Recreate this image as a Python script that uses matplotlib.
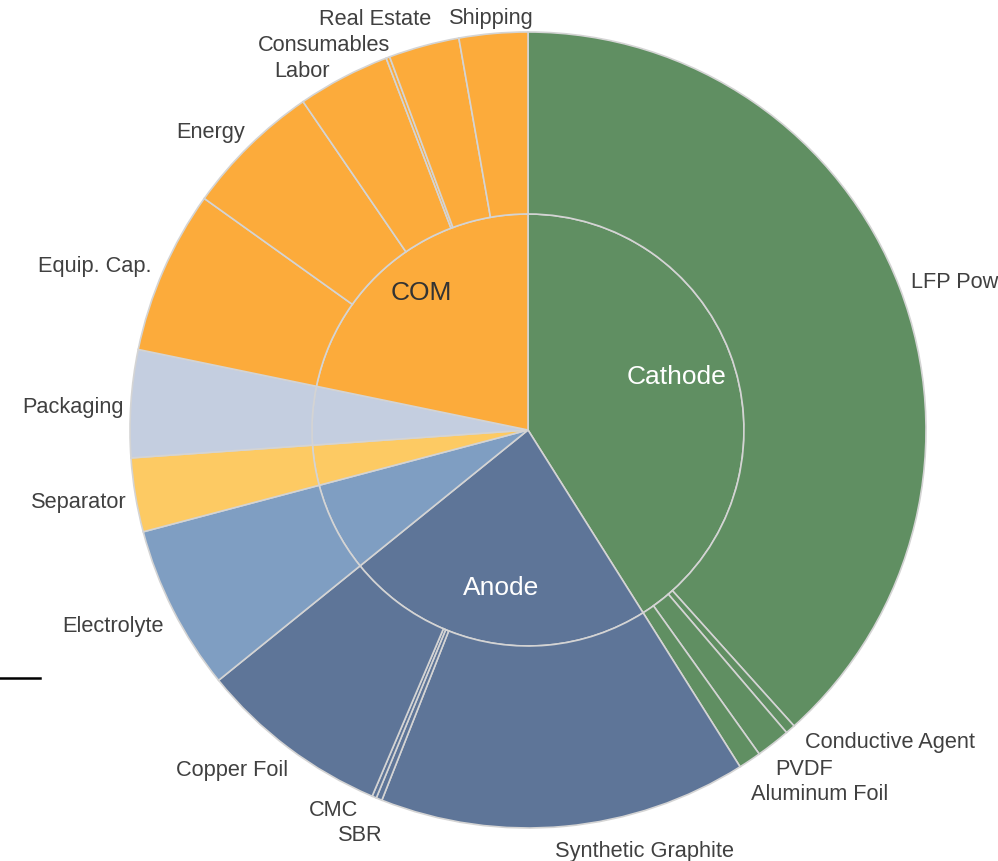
import numpy as np
import matplotlib
matplotlib.use("Agg")
import matplotlib.pyplot as plt
from matplotlib.patches import Wedge
from matplotlib.lines import Line2D

plt.rcParams['font.family'] = ['Liberation Sans', 'DejaVu Sans']

# Cost breakdown, share of total (%)
groups = ["Cathode", "Anode", "Electrolyte", "Separator", "Packaging", "COM"]
group_colors = ["#608f62", "#5e7598", "#7f9ec2", "#fdca63", "#c4cee0", "#fcab3b"]

cathode_parts = ["LFP Powder", "Conductive Agent", "PVDF", "Aluminum Foil"]
cathode_vals = [38.35, 0.40, 1.39, 0.92]
anode_parts = ["Synthetic Graphite", "SBR", "CMC", "Copper Foil"]
anode_vals = [14.93, 0.24, 0.18, 7.77]
electrolyte_vals = [6.71]
separator_vals = [3.00]
packaging_vals = [4.36]
com_parts = ["Equip. Cap.", "Energy", "Labor", "Consumables", "Real Estate", "Shipping"]
com_vals = [6.64, 5.56, 3.76, 0.15, 2.87, 2.78]

children = [
    (cathode_parts, cathode_vals),
    (anode_parts, anode_vals),
    (["Electrolyte"], electrolyte_vals),
    (["Separator"], separator_vals),
    (["Packaging"], packaging_vals),
    (com_parts, com_vals),
]

# label nudges in pixels (dx, dy with y pointing up)
nudge = {
    "LFP Powder": (-2, 1), "Conductive Agent": (5, -2), "PVDF": (-6, -14),
    "Aluminum Foil": (-7, -21), "Synthetic Graphite": (-11, -10),
    "SBR": (9, -22), "CMC": (-11, 0),
    "Copper Foil": (8, -11), "Electrolyte": (3, -9), "Separator": (5, -4),
    "Packaging": (7, -4), "Equip. Cap.": (1, -1), "Energy": (5, 4),
    "Labor": (-7, -5), "Consumables": (7, 0), "Real Estate": (11, 14),
    "Shipping": (42, 2),
    "Cathode": (-7, 9), "Anode": (0, 3), "COM": (-4, 12),
}

W, H = 998, 862
cx, cy = 528, 431
R_out, R_in = 398, 216
edge = "#d4d4d4"

fig = plt.figure(figsize=(W / 100, H / 100), dpi=100)
ax = fig.add_axes([0, 0, 1, 1])
ax.set_xlim(-cx, W - cx)
ax.set_ylim(-(H - cy), cy)
ax.set_aspect("equal")
ax.axis("off")

total = sum(sum(v) for _, v in children)


def pos(angle, r):
    # angle measured clockwise from 12 o'clock, in degrees
    a = np.radians(angle)
    return r * np.sin(a), r * np.cos(a)


start = 0.0
for g, col, (names, vals) in zip(groups, group_colors, children):
    gsum = sum(vals)
    g_end = start + 360 * gsum / total
    ax.add_patch(Wedge((0, 0), R_in, 90 - g_end, 90 - start, facecolor=col,
                       edgecolor=edge, linewidth=1.2))
    if len(names) > 1:
        mid = (start + g_end) / 2
        x, y = pos(mid, 162)
        dx, dy = nudge.get(g, (0, 0))
        tc = "#333333" if g == "COM" else "white"
        ax.text(x + dx, y + dy, g, ha="center", va="center", fontsize=19, color=tc)
    a0 = start
    for n, v in zip(names, vals):
        a1 = a0 + 360 * v / total
        ax.add_patch(Wedge((0, 0), R_out, 90 - a1, 90 - a0, width=R_out - R_in,
                           facecolor=col, edgecolor=edge, linewidth=1.2))
        mid = (a0 + a1) / 2
        x, y = pos(mid, 412)
        dx, dy = nudge.get(n, (0, 0))
        ha = "left" if x > 0 else "right"
        ax.text(x + dx, y + dy, n, ha=ha, va="center", fontsize=15.7, color="#404040")
        a0 = a1
    start = g_end

fig.add_artist(Line2D([0, 40 / W], [1 - 679 / H, 1 - 679 / H], color="black",
                      linewidth=1.8, transform=fig.transFigure))

fig.savefig("out.png", dpi=100)
